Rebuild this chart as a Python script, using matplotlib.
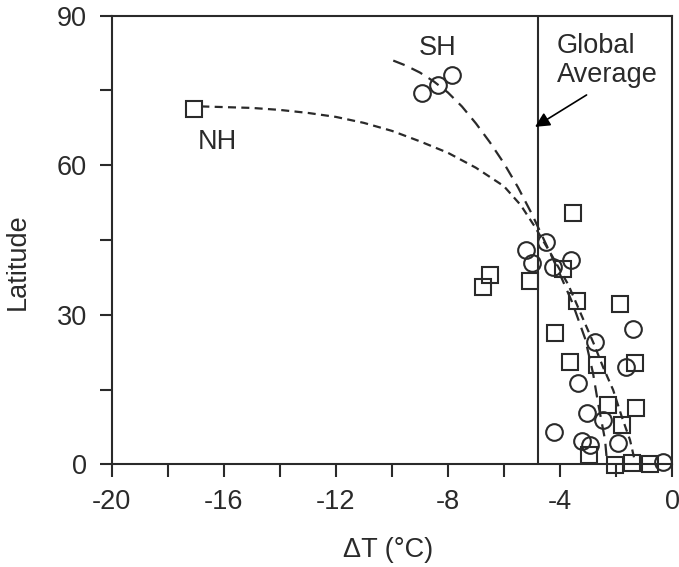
import matplotlib
matplotlib.use("Agg")
import matplotlib.pyplot as plt
from matplotlib.ticker import MultipleLocator, FixedLocator

plt.rcParams['font.family'] = ['Liberation Sans', 'DejaVu Sans']

INK = '#2a2a2a'

# Northern hemisphere sites (squares): temperature change vs latitude
nh_dt = [-17.07, -6.48, -6.76, -5.07, -3.52, -3.88, -3.40, -1.86, -4.18,
         -3.64, -2.69, -1.32, -2.27, -1.29, -1.80, -2.95, -2.04, -1.44, -0.80]
nh_lat = [71.2, 38.0, 35.5, 36.8, 50.4, 39.1, 32.8, 32.2, 26.3,
          20.5, 19.9, 20.3, 11.9, 11.2, 7.9, 1.9, -0.1, 0.2, 0.0]

# Southern hemisphere sites (circles)
sh_dt = [-8.94, -8.35, -7.87, -4.50, -5.21, -4.98, -4.24, -3.62, -1.40,
         -2.75, -1.64, -3.35, -3.05, -2.48, -4.21, -3.23, -2.93, -1.92, -0.33]
sh_lat = [74.4, 76.1, 78.1, 44.7, 43.0, 40.4, 39.5, 40.9, 27.1,
          24.6, 19.6, 16.3, 10.2, 8.9, 6.5, 4.7, 3.9, 4.2, 0.5]

# Trend curves
nh_curve_dt = [-16.8, -15.0, -14.0, -13.0, -12.0, -11.0, -10.0, -9.0, -8.0,
               -7.0, -6.0, -5.4, -4.9, -4.3, -3.7, -3.2, -2.8, -2.46, -2.1,
               -1.79, -1.5, -1.32]
nh_curve_lat = [71.8, 71.5, 71.1, 70.5, 69.7, 68.5, 66.9, 64.8, 62.5,
                59.5, 55.8, 52.0, 47.7, 42.0, 36.0, 29.5, 24.3, 19.5, 14.9,
                9.5, 4.9, 0.5]
sh_curve_dt = [-9.95, -9.5, -9.0, -8.5, -8.0, -7.5, -7.0, -6.5, -6.0, -5.5,
               -5.0, -4.6, -4.1, -3.57, -3.1, -2.82, -2.64, -2.39, -2.32]
sh_curve_lat = [81.0, 80.0, 78.6, 76.8, 74.6, 71.8, 68.4, 64.6, 60.4, 55.6,
                50.2, 45.4, 39.4, 32.6, 25.2, 18.3, 12.3, 4.9, 0.5]

global_avg = -4.8

x_ticks = [-20, -16, -12, -8, -4, 0]
y_ticks = [0, 30, 60, 90]

fig = plt.figure(figsize=(6.79, 5.67), dpi=100)
ax = fig.add_axes([0.1645, 0.1811, 0.8252, 0.7912])

ax.plot(nh_curve_dt, nh_curve_lat, color=INK, lw=1.6, dashes=(3.6, 2.4))
ax.plot(sh_curve_dt, sh_curve_lat, color=INK, lw=1.6, dashes=(5.5, 3.4))

ax.axvline(global_avg, color=INK, lw=1.5)

ax.plot(nh_dt, nh_lat, ls='none', marker='s', ms=11.5, mfc='none',
        mec=INK, mew=1.5, clip_on=False)
ax.plot(sh_dt, sh_lat, ls='none', marker='o', ms=12, mfc='none',
        mec=INK, mew=1.5, clip_on=False)

ax.set_xlim(-20, 0)
ax.set_ylim(0, 90)
ax.xaxis.set_major_locator(FixedLocator(x_ticks))
ax.xaxis.set_minor_locator(MultipleLocator(2))
ax.yaxis.set_major_locator(FixedLocator(y_ticks))
ax.yaxis.set_minor_locator(MultipleLocator(15))
ax.set_xticklabels([str(v) for v in x_ticks])
ax.set_yticklabels([str(v) for v in y_ticks])
ax.tick_params(which='both', direction='out', length=9, width=1.5,
               color=INK, labelsize=19.5, labelcolor=INK)
ax.tick_params(axis='x', which='major', pad=9)
ax.tick_params(axis='y', which='major', pad=9)
for s in ax.spines.values():
    s.set_linewidth(1.5)
    s.set_color(INK)

ax.set_xlabel('ΔT (°C)', fontsize=19.5, color=INK)
ax.set_ylabel('Latitude', fontsize=19.5, color=INK)
ax.xaxis.set_label_coords(0.493, -0.191)
ax.xaxis.label.set_verticalalignment('center')
ax.yaxis.set_label_coords(-0.168, 0.451)
ax.yaxis.label.set_verticalalignment('center')

ax.text(-16.23, 64.6, 'NH', fontsize=19.5, color=INK, ha='center', va='center')
ax.text(-8.36, 83.5, 'SH', fontsize=19.5, color=INK, ha='center', va='center')
ax.text(-4.11, 81.0, 'Global\nAverage', fontsize=19.5, color=INK,
        ha='left', va='center', linespacing=1.15)
ax.annotate('', xy=(-4.89, 67.7), xytext=(-3.05, 74.1),
            arrowprops=dict(arrowstyle='-|>', mutation_scale=22, lw=1.2,
                            color='black', shrinkA=0, shrinkB=0))

fig.savefig('out.png', dpi=100, facecolor='white')
